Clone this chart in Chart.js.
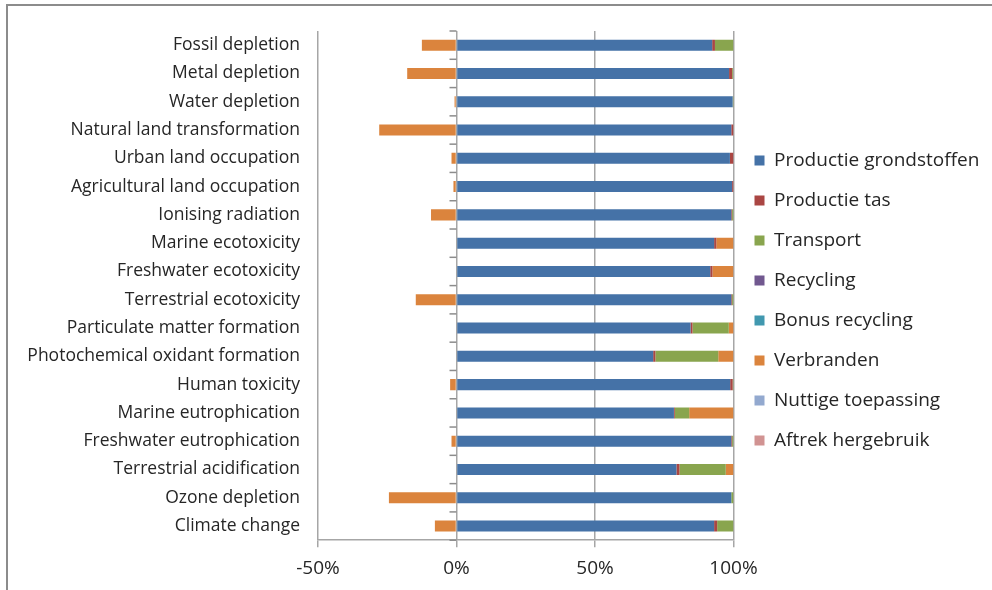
<!DOCTYPE html>
<html>
<head>
<meta charset="utf-8">
<script src="https://cdn.jsdelivr.net/npm/chart.js@4/dist/chart.umd.min.js"></script>
<style>
  html, body { margin: 0; padding: 0; background: #fff; overflow: hidden; }
  #frame { position: absolute; left: 6px; top: 4px; width: 1100px; height: 700px; border: 2px solid #8c8c8c; }
  #wrap { position: absolute; left: 0; top: 0; width: 992px; height: 590px; }
</style>
</head>
<body>
<div id="frame"></div>
<div id="wrap"><canvas id="impactChart"></canvas></div>
<script>
// categories top to bottom
const categories = [
  'Fossil depletion', 'Metal depletion', 'Water depletion', 'Natural land transformation',
  'Urban land occupation', 'Agricultural land occupation', 'Ionising radiation',
  'Marine ecotoxicity', 'Freshwater ecotoxicity', 'Terrestrial ecotoxicity',
  'Particulate matter formation', 'Photochemical oxidant formation', 'Human toxicity',
  'Marine eutrophication', 'Freshwater eutrophication', 'Terrestrial acidification',
  'Ozone depletion', 'Climate change'
];

// shares in %
const productieGrondstoffen = [92.3, 98.4, 99.7, 99.2, 98.7, 99.5, 99.2, 93.0, 91.6, 99.2, 84.5, 71.0, 98.8, 78.5, 99.2, 79.4, 99.2, 93.0];
const productieTas =          [1.0, 1.1, 0, 0.8, 1.3, 0.5, 0.3, 0.8, 0.8, 0.3, 0.7, 0.8, 0.9, 0.3, 0.3, 1.1, 0, 1.1];
const transport =             [6.7, 0.3, 0.3, 0, 0, 0, 0.5, 0, 0, 0.5, 13.1, 22.7, 0.3, 5.2, 0.5, 16.7, 0.8, 5.9];
const recycling =             [0, 0, 0, 0, 0, 0, 0, 0, 0, 0, 0, 0, 0, 0, 0, 0, 0, 0];
const bonusRecycling =        [0, 0, 0, 0, 0, 0, 0, 0, 0, 0, 0, 0, 0, 0, 0, 0, 0, 0];
const verbranden =            [-12.5, -17.8, -0.7, -27.9, -1.8, -1.1, -9.2, 6.2, 7.6, -14.7, 1.7, 5.5, -2.3, 16.0, -1.8, 2.8, -24.4, -7.8];
const nuttigeToepassing =     [0, 0, 0, 0, 0, 0, 0, 0, 0, 0, 0, 0, 0, 0, 0, 0, 0, 0];
const aftrekHergebruik =      [0, 0, 0, 0, 0, 0, 0, 0, 0, 0, 0, 0, 0, 0, 0, 0, 0, 0];

const xTicks = [-50, 0, 50, 100];

const series = [
  { label: 'Productie grondstoffen', data: productieGrondstoffen, color: '#4572A7' },
  { label: 'Productie tas', data: productieTas, color: '#AA4643' },
  { label: 'Transport', data: transport, color: '#89A54E' },
  { label: 'Recycling', data: recycling, color: '#71588F' },
  { label: 'Bonus recycling', data: bonusRecycling, color: '#4198AF' },
  { label: 'Verbranden', data: verbranden, color: '#DB843D' },
  { label: 'Nuttige toepassing', data: nuttigeToepassing, color: '#93A9CF' },
  { label: 'Aftrek hergebruik', data: aftrekHergebruik, color: '#D19392' }
];

// small tick marks on the vertical axis at 0%, and nudge legend up a bit
const zeroAxisTicks = {
  id: 'zeroAxisTicks',
  afterLayout(chart) {
    chart.legend.top -= 10;
    chart.legend.bottom -= 10;
  },
  afterDatasetsDraw(chart) {
    const ctx = chart.ctx;
    const x = chart.scales.x.getPixelForValue(0);
    const y = chart.scales.y;
    const step = (y.bottom - y.top) / categories.length;
    ctx.save();
    ctx.strokeStyle = '#8c8c8c';
    ctx.lineWidth = 1.5;
    for (let i = 0; i <= categories.length; i++) {
      const py = y.top + i * step;
      ctx.beginPath();
      ctx.moveTo(x - 7, py);
      ctx.lineTo(x, py);
      ctx.stroke();
    }
    ctx.restore();
  }
};

function buildChart() {
  new Chart(document.getElementById('impactChart'), {
    type: 'bar',
    data: {
      labels: categories,
      datasets: series.map(s => ({
        label: s.label,
        data: s.data,
        backgroundColor: s.color,
        borderWidth: 0,
        categoryPercentage: 1,
        barPercentage: 0.39
      }))
    },
    options: {
      indexAxis: 'y',
      responsive: true,
      maintainAspectRatio: false,
      animation: false,
      layout: { padding: { top: 31, right: 14, bottom: 0, left: 0 } },
      plugins: {
        legend: {
          position: 'right',
          align: 'center',
          labels: {
            color: '#262626',
            font: { family: 'Open Sans', size: 19 },
            boxWidth: 10,
            boxHeight: 10,
            padding: 21
          }
        },
        tooltip: { enabled: false }
      },
      scales: {
        x: {
          stacked: true,
          min: -50,
          max: 100,
          afterBuildTicks: axis => { axis.ticks = xTicks.map(v => ({ value: v })); },
          grid: { color: '#a6a6a6', lineWidth: 1.5, drawTicks: true, tickLength: 7, tickColor: '#a6a6a6' },
          border: { color: '#a6a6a6', width: 1.5 },
          ticks: {
            color: '#262626',
            font: { family: 'Open Sans', size: 19 },
            padding: 10,
            callback: v => v + '%'
          }
        },
        y: {
          stacked: true,
          afterFit: axis => { axis.width = 318; },
          grid: { display: false, drawTicks: false },
          border: { display: false },
          ticks: {
            color: '#262626',
            font: { family: 'Open Sans', size: 17.5 },
            padding: 18,
            autoSkip: false
          }
        }
      }
    },
    plugins: [zeroAxisTicks]
  });
}

document.fonts.load('19px "Open Sans"').then(buildChart, buildChart);
</script>
</body>
</html>
